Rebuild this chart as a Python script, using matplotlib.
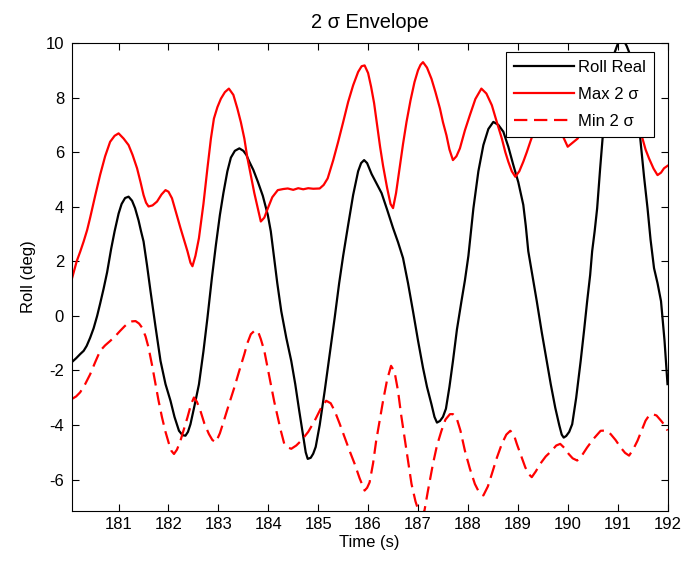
import numpy as np
import matplotlib
matplotlib.use('Agg')
import matplotlib.pyplot as plt

# Datos (tiempo en s, roll en grados)
t_real = [180.06, 180.15, 180.23, 180.30, 180.36, 180.43, 180.50, 180.57, 180.63, 180.70,
          180.77, 180.85, 180.92, 181.00, 181.06, 181.13, 181.20, 181.27, 181.33, 181.40,
          181.45, 181.50, 181.57, 181.64, 181.74, 181.84, 181.94, 182.04, 182.12, 182.21,
          182.28, 182.34, 182.39, 182.44, 182.52, 182.61, 182.70, 182.78, 182.87, 182.95,
          183.03, 183.10, 183.18, 183.25, 183.33, 183.42, 183.50, 183.56, 183.62, 183.70,
          183.79, 183.89, 183.99, 184.05, 184.10, 184.18, 184.26, 184.36, 184.46, 184.54,
          184.62, 184.70, 184.75, 184.79, 184.85, 184.90, 184.95, 185.03, 185.13, 185.23,
          185.33, 185.42, 185.50, 185.60, 185.70, 185.80, 185.86, 185.92, 185.98, 186.07,
          186.17, 186.27, 186.38, 186.50, 186.60, 186.70, 186.80, 186.90, 187.00, 187.10,
          187.18, 187.27, 187.33, 187.38, 187.44, 187.50, 187.56, 187.63, 187.70, 187.78,
          187.87, 187.94, 188.01, 188.11, 188.21, 188.31, 188.41, 188.51, 188.61, 188.71,
          188.81, 188.91, 189.01, 189.11, 189.16, 189.21, 189.30, 189.38, 189.48, 189.58,
          189.66, 189.75, 189.83, 189.88, 189.92, 189.97, 190.03, 190.09, 190.17, 190.26,
          190.33, 190.39, 190.45, 190.49, 190.54, 190.59, 190.65, 190.72, 190.79, 190.86,
          190.93, 191.00, 191.06, 191.12, 191.18, 191.23, 191.28, 191.33, 191.40, 191.46,
          191.53, 191.60, 191.66, 191.73, 191.80, 191.87, 191.94, 192.00]
roll_real = [-1.70, -1.55, -1.40, -1.28, -1.10, -0.80, -0.45, 0.00, 0.45, 1.00,
             1.60, 2.45, 3.10, 3.75, 4.10, 4.32, 4.37, 4.22, 3.95, 3.50,
             3.10, 2.73, 1.85, 0.90, -0.40, -1.65, -2.50, -3.11, -3.70, -4.21,
             -4.37, -4.39, -4.25, -3.97, -3.30, -2.51, -1.30, -0.08, 1.40, 2.60,
             3.70, 4.50, 5.30, 5.80, 6.05, 6.14, 6.05, 5.90, 5.65, 5.35,
             4.92, 4.40, 3.70, 3.10, 2.37, 1.20, 0.17, -0.80, -1.65, -2.50,
             -3.48, -4.40, -5.00, -5.24, -5.20, -5.05, -4.80, -4.00, -2.75, -1.40,
             -0.07, 1.20, 2.20, 3.33, 4.43, 5.30, 5.60, 5.71, 5.60, 5.20,
             4.85, 4.50, 3.90, 3.22, 2.70, 2.12, 1.20, 0.17, -0.90, -1.90,
             -2.60, -3.24, -3.70, -3.91, -3.85, -3.70, -3.40, -2.60, -1.66, -0.50,
             0.53, 1.30, 2.20, 3.94, 5.30, 6.26, 6.85, 7.11, 7.00, 6.75,
             6.20, 5.53, 4.90, 4.07, 3.30, 2.37, 1.40, 0.54, -0.60, -1.65,
             -2.50, -3.36, -4.00, -4.35, -4.46, -4.40, -4.25, -3.97, -3.00, -1.65,
             -0.50, 0.54, 1.50, 2.37, 3.10, 3.94, 5.40, 6.98, 8.10, 9.05,
             9.60, 9.95, 10.12, 10.10, 9.90, 9.67, 9.20, 8.57, 7.50, 6.38,
             5.10, 3.94, 2.80, 1.75, 1.20, 0.54, -0.90, -2.50]

t_max = [180.06, 180.16, 180.23, 180.30, 180.37, 180.43, 180.53, 180.63, 180.73, 180.83,
         180.92, 181.00, 181.10, 181.20, 181.28, 181.37, 181.44, 181.50, 181.55, 181.60,
         181.68, 181.77, 181.86, 181.94, 182.00, 182.07, 182.15, 182.24, 182.31, 182.38,
         182.44, 182.48, 182.54, 182.61, 182.70, 182.78, 182.85, 182.91, 182.98, 183.05,
         183.13, 183.21, 183.30, 183.38, 183.45, 183.52, 183.58, 183.65, 183.72, 183.79,
         183.85, 183.92, 183.99, 184.08, 184.19, 184.30, 184.39, 184.50, 184.60, 184.70,
         184.80, 184.90, 185.03, 185.11, 185.19, 185.30, 185.40, 185.50, 185.60, 185.70,
         185.80, 185.87, 185.93, 186.00, 186.06, 186.12, 186.18, 186.24, 186.30, 186.38,
         186.45, 186.50, 186.56, 186.63, 186.70, 186.77, 186.85, 186.93, 187.00,
         187.05, 187.10, 187.18, 187.27, 187.35, 187.44, 187.50, 187.57, 187.63, 187.70,
         187.77, 187.84, 187.94, 188.04, 188.15, 188.27, 188.37, 188.48, 188.58, 188.68,
         188.75, 188.81, 188.88, 188.95, 189.03, 189.11, 189.18, 189.25, 189.35, 189.45,
         189.60, 189.80, 190.00, 190.20, 190.45, 190.70, 190.90, 191.10, 191.30, 191.50,
         191.56, 191.63, 191.72, 191.80, 191.87, 191.93, 192.00]
roll_max = [1.33, 2.00, 2.35, 2.73, 3.15, 3.60, 4.40, 5.17, 5.85, 6.38,
            6.60, 6.69, 6.50, 6.26, 5.90, 5.41, 4.90, 4.43, 4.15, 4.01,
            4.05, 4.19, 4.45, 4.61, 4.55, 4.31, 3.80, 3.22, 2.80, 2.37,
            1.95, 1.82, 2.20, 2.85, 4.10, 5.41, 6.50, 7.23, 7.65, 7.96,
            8.20, 8.33, 8.10, 7.60, 7.10, 6.50, 5.80, 5.16, 4.50, 3.94,
            3.46, 3.60, 3.94, 4.35, 4.61, 4.65, 4.67, 4.62, 4.68, 4.64,
            4.68, 4.66, 4.67, 4.80, 5.04, 5.70, 6.38, 7.10, 7.84, 8.45,
            8.94, 9.15, 9.18, 8.90, 8.40, 7.80, 7.00, 6.20, 5.50, 4.70,
            4.10, 3.95, 4.50, 5.41, 6.30, 7.11, 7.90, 8.57, 9.00,
            9.20, 9.30, 9.10, 8.69, 8.20, 7.60, 7.10, 6.62, 6.10, 5.71,
            5.85, 6.14, 6.80, 7.36, 7.95, 8.33, 8.15, 7.72, 7.10, 6.50,
            6.00, 5.65, 5.30, 5.10, 5.30, 5.65, 6.00, 6.38, 6.90, 7.30,
            7.80, 7.00, 6.20, 6.50, 7.50, 8.50, 9.00, 8.70, 7.80, 6.50,
            6.10, 5.77, 5.40, 5.16, 5.25, 5.41, 5.50]

t_min = [180.06, 180.15, 180.23, 180.33, 180.43, 180.53, 180.63, 180.73, 180.83, 180.93,
         181.03, 181.12, 181.20, 181.27, 181.34, 181.41, 181.47, 181.54, 181.60, 181.67,
         181.74, 181.80, 181.87, 181.94, 182.01, 182.06, 182.11, 182.17, 182.24, 182.31,
         182.38, 182.45, 182.51, 182.57, 182.64, 182.72, 182.81, 182.88, 182.95, 183.03,
         183.11, 183.21, 183.32, 183.42, 183.52, 183.58, 183.65, 183.72, 183.79, 183.85,
         183.92, 183.98, 184.05, 184.12, 184.19, 184.25, 184.32, 184.39, 184.46, 184.56,
         184.66, 184.80, 184.93, 185.05, 185.16, 185.25, 185.33, 185.43, 185.53, 185.63,
         185.73, 185.83, 185.93, 185.98, 186.03, 186.10, 186.16, 186.23, 186.30, 186.38,
         186.46, 186.53, 186.60, 186.66, 186.73, 186.80, 186.87, 186.95, 187.03, 187.08,
         187.13, 187.20, 187.30, 187.38, 187.47, 187.55, 187.64, 187.70, 187.77, 187.85,
         187.94, 188.04, 188.14, 188.22, 188.31, 188.40, 188.48, 188.58, 188.68, 188.77,
         188.85, 188.92, 188.98, 189.06, 189.15, 189.22, 189.28, 189.36, 189.45, 189.56,
         189.68, 189.77, 189.85, 189.94, 190.02, 190.10, 190.19, 190.29, 190.39, 190.52,
         190.66, 190.76, 190.86, 190.96, 191.06, 191.15, 191.23, 191.31, 191.40, 191.48,
         191.56, 191.63, 191.70, 191.78, 191.87, 191.94, 192.00]
roll_min = [-3.05, -2.95, -2.80, -2.50, -2.14, -1.70, -1.28, -1.08, -0.92, -0.75,
            -0.55, -0.38, -0.25, -0.20, -0.19, -0.28, -0.43, -0.75, -1.16, -1.80,
            -2.50, -3.10, -3.72, -4.25, -4.69, -4.95, -5.06, -4.90, -4.57, -4.15,
            -3.72, -3.25, -2.99, -3.15, -3.48, -3.95, -4.33, -4.55, -4.63, -4.30,
            -3.84, -3.25, -2.62, -2.00, -1.40, -1.00, -0.67, -0.55, -0.55, -0.85,
            -1.28, -1.85, -2.50, -3.15, -3.72, -4.20, -4.69, -4.82, -4.87, -4.75,
            -4.57, -4.25, -3.84, -3.40, -3.11, -3.20, -3.48, -3.95, -4.45, -4.95,
            -5.42, -5.95, -6.40, -6.30, -6.10, -5.40, -4.60, -3.85, -3.11, -2.35,
            -1.83, -2.05, -2.75, -3.60, -4.45, -5.30, -6.16, -6.80, -7.25, -7.30,
            -7.13, -6.40, -5.42, -4.75, -4.21, -3.80, -3.60, -3.60, -3.72, -4.20,
            -4.94, -5.60, -6.16, -6.45, -6.58, -6.25, -5.79, -5.20, -4.69, -4.35,
            -4.21, -4.35, -4.69, -5.10, -5.55, -5.80, -5.91, -5.70, -5.42, -5.15,
            -4.94, -4.75, -4.69, -4.85, -5.06, -5.22, -5.30, -5.10, -4.82, -4.50,
            -4.21, -4.20, -4.33, -4.55, -4.82, -5.02, -5.12, -4.90, -4.57, -4.20,
            -3.84, -3.65, -3.60, -3.65, -3.84, -4.00, -4.20]

xticks = list(range(181, 193))
yticks = [-6, -4, -2, 0, 2, 4, 6, 8, 10]

plt.rcParams['font.family'] = ['Liberation Sans', 'DejaVu Sans']
plt.rcParams['font.size'] = 12
plt.rcParams['axes.unicode_minus'] = False

fig = plt.figure(figsize=(6.92, 5.70), dpi=100)
ax = fig.add_axes([0.1036, 0.1035, 0.861, 0.821])

ax.plot(t_real, roll_real, color='black', lw=1.6, label='Roll Real')
ax.plot(t_max, roll_max, color='red', lw=1.6, label='Max 2 σ')
ax.plot(t_min, roll_min, color='red', lw=1.6, ls=(0, (6, 3)), label='Min 2 σ')

ax.set_xlim(180.06, 192)
ax.set_ylim(-7.15, 10)
ax.set_xticks(xticks)
ax.set_yticks(yticks)

# Estilo tipo MATLAB: ticks hacia dentro en los cuatro lados
ax.tick_params(direction='in', top=True, right=True, length=5, width=0.8)
ax.tick_params(axis='x', pad=4.5)
ax.tick_params(axis='y', pad=5.5)
for s in ax.spines.values():
    s.set_linewidth(0.8)

ax.set_title('2 σ Envelope', pad=11)
ax.set_xlabel('Time (s)', labelpad=2)
ax.set_ylabel('Roll (deg)', labelpad=7)

leg = ax.legend(loc='upper right', bbox_to_anchor=(0.978, 0.981), borderaxespad=0,
                fancybox=False, framealpha=1, edgecolor='black', handlelength=3.6,
                handletextpad=0.25, borderpad=0.5, labelspacing=0.7)
leg.get_frame().set_linewidth(0.8)

fig.savefig('out.png', dpi=100)
